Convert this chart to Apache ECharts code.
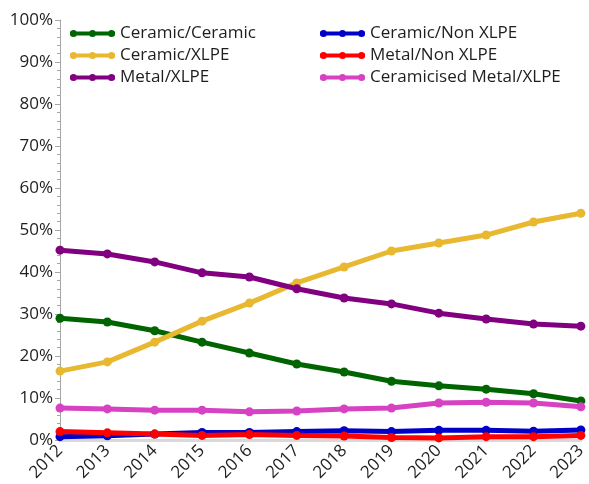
<!DOCTYPE html>
<html>
<head>
<meta charset="utf-8">
<script src="https://cdn.jsdelivr.net/npm/echarts@6/dist/echarts.min.js"></script>
<style>html,body{margin:0;padding:0;background:#fff}#c{width:589px;height:484px}</style>
</head>
<body>
<div id="c"></div>
<script>
var years = ['2012','2013','2014','2015','2016','2017','2018','2019','2020','2021','2022','2023'];
var ceramicCeramic = [29.0,28.1,26.0,23.3,20.7,18.1,16.2,14.0,12.9,12.1,11.0,9.3];
var ceramicNonXLPE = [0.8,1.0,1.4,1.8,1.8,2.0,2.2,2.0,2.3,2.3,2.1,2.4];
var ceramicXLPE = [16.4,18.6,23.3,28.3,32.6,37.4,41.2,45.0,46.9,48.8,51.9,54.0];
var metalNonXLPE = [2.0,1.7,1.4,1.1,1.3,1.1,0.95,0.6,0.5,0.8,0.8,1.1];
var metalXLPE = [45.2,44.3,42.4,39.8,38.8,36.0,33.8,32.4,30.2,28.8,27.6,27.1];
var ceramicisedMetalXLPE = [7.6,7.4,7.1,7.1,6.7,6.9,7.4,7.6,8.8,9.0,8.8,7.9];

var FONT = 'Open Sans';
var icon = 'path://M0,3H45V7H0Z M0,5a3.5,3.5 0 1,1 7,0a3.5,3.5 0 1,1 -7,0Z M19,5a3.5,3.5 0 1,1 7,0a3.5,3.5 0 1,1 -7,0Z M38,5a3.5,3.5 0 1,1 7,0a3.5,3.5 0 1,1 -7,0Z';

function mk(name, data, color) {
  return {
    name: name, type: 'line', data: data,
    symbol: 'circle', symbolSize: 9,
    lineStyle: {color: color, width: 5},
    itemStyle: {color: color},
    emphasis: {disabled: true},
    animation: false
  };
}

var chart = echarts.init(document.getElementById('c'), null, {renderer: 'canvas'});
var legendCommon = {
  orient: 'vertical', icon: icon, itemWidth: 45, itemHeight: 9, itemGap: 5, padding: 0,
  textStyle: {fontFamily: FONT, fontSize: 17, color: '#1e1e1e', lineHeight: 17}
};
chart.setOption({
  animation: false,
  textStyle: {fontFamily: FONT},
  grid: {left: 60, right: 2, top: 20, bottom: 44, containLabel: false},
  legend: [
    Object.assign({left: 70, top: 25, data: ['Ceramic/Ceramic','Ceramic/XLPE','Metal/XLPE']}, legendCommon),
    Object.assign({left: 320, top: 25, data: ['Ceramic/Non XLPE','Metal/Non XLPE','Ceramicised Metal/XLPE']}, legendCommon)
  ],
  xAxis: {
    type: 'category', data: years, boundaryGap: false,
    axisLine: {lineStyle: {color: '#d9d9d9', width: 3}},
    axisTick: {show: false},
    axisLabel: {rotate: 45, fontFamily: FONT, fontSize: 17, color: '#1e1e1e', margin: 8}
  },
  yAxis: {
    type: 'value', min: 0, max: 100, interval: 10,
    axisLine: {show: true, lineStyle: {color: '#a6a6a6', width: 1}},
    axisTick: {show: true, length: 5, lineStyle: {color: '#a6a6a6'}},
    minorTick: {show: true, splitNumber: 5, length: 3, lineStyle: {color: '#a6a6a6'}},
    splitLine: {show: false},
    axisLabel: {formatter: '{value}%', fontFamily: FONT, fontSize: 17, color: '#1e1e1e', margin: 7}
  },
  series: [
    mk('Ceramic/Ceramic', ceramicCeramic, '#006400'),
    mk('Ceramic/Non XLPE', ceramicNonXLPE, '#0000c8'),
    mk('Ceramic/XLPE', ceramicXLPE, '#e8b830'),
    mk('Metal/Non XLPE', metalNonXLPE, '#ff0000'),
    mk('Metal/XLPE', metalXLPE, '#800080'),
    mk('Ceramicised Metal/XLPE', ceramicisedMetalXLPE, '#d642c2')
  ]
});
</script>
</body>
</html>
